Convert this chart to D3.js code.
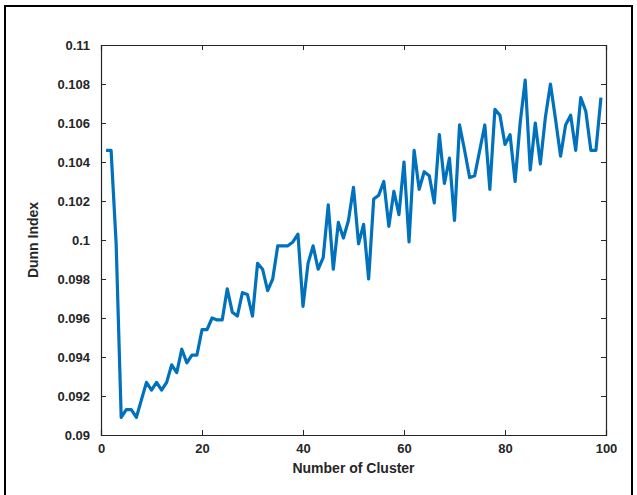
<!DOCTYPE html>
<html>
<head>
<meta charset="utf-8">
<script src="https://cdn.jsdelivr.net/npm/d3@7"></script>
<style>
  body { margin: 0; background: #fff; }
  text { font-family: "Liberation Sans", Arial, sans-serif; font-weight: bold; fill: #262626; }
</style>
</head>
<body>
<svg id="chart" width="637" height="495"></svg>
<script>
// Valeurs (k = 1..99)
const clusters = d3.range(1, 100);
const dunnValues = [
  0.1046, 0.1046, 0.0998, 0.0909, 0.0913, 0.0913, 0.0909, 0.0918, 0.0927, 0.0923,
  0.0927, 0.0923, 0.0927, 0.0936, 0.0932, 0.0944, 0.0937, 0.0941, 0.0941, 0.0954,
  0.0954, 0.0960, 0.0959, 0.0959, 0.0975, 0.0963, 0.0961, 0.0973, 0.0972, 0.0961,
  0.0988, 0.0985, 0.0974, 0.0980, 0.0997, 0.0997, 0.0997, 0.0999, 0.1003, 0.0966,
  0.0988, 0.0997, 0.0985, 0.0991, 0.1018, 0.0985, 0.1009, 0.1001, 0.1010, 0.1027,
  0.0998, 0.1008, 0.0980, 0.1021, 0.1023, 0.1030, 0.1007, 0.1025, 0.1013, 0.1040,
  0.0999, 0.1046, 0.1026, 0.1035, 0.1033, 0.1019, 0.1054, 0.1029, 0.1042, 0.1010,
  0.1059, 0.1046, 0.1032, 0.1033, 0.1046, 0.1059, 0.1026, 0.1067, 0.1064, 0.1049,
  0.1054, 0.1030, 0.1060, 0.1082, 0.1036, 0.1060, 0.1039, 0.1063, 0.1080, 0.1062,
  0.1043, 0.1059, 0.1064, 0.1046, 0.1073, 0.1066, 0.1046, 0.1046, 0.1073
];
const xTicks = [0, 20, 40, 60, 80, 100];
const yTicks = [0.09, 0.092, 0.094, 0.096, 0.098, 0.1, 0.102, 0.104, 0.106, 0.108, 0.11];

const svg = d3.select("#chart");
const plotLeft = 101, plotRight = 606, plotTop = 45, plotBottom = 435;

// cadre extérieur
svg.append("rect")
  .attr("x", 5).attr("y", 6)
  .attr("width", 627).attr("height", 500)
  .attr("fill", "none")
  .attr("stroke", "#000")
  .attr("stroke-width", 2);

const x = d3.scaleLinear().domain([0, 100]).range([plotLeft, plotRight]);
const y = d3.scaleLinear().domain([0.09, 0.11]).range([plotBottom, plotTop]);

// axes (style MATLAB : ticks vers l'intérieur sur les 4 côtés)
const gx = svg.append("g").attr("transform", `translate(0,${plotBottom})`)
  .call(d3.axisBottom(x).tickValues(xTicks).tickSize(-5).tickPadding(9).tickFormat(d => d));
const gxTop = svg.append("g").attr("transform", `translate(0,${plotTop})`)
  .call(d3.axisTop(x).tickValues(xTicks).tickSize(-5).tickFormat(""));
const gy = svg.append("g").attr("transform", `translate(${plotLeft},0)`)
  .call(d3.axisLeft(y).tickValues(yTicks).tickSize(-5).tickPadding(11).tickFormat(d => +d.toFixed(3)));
const gyRight = svg.append("g").attr("transform", `translate(${plotRight},0)`)
  .call(d3.axisRight(y).tickValues(yTicks).tickSize(-5).tickFormat(""));

[gx, gxTop, gy, gyRight].forEach(g => {
  g.selectAll("path").attr("stroke", "#262626").attr("stroke-width", 1.2);
  g.selectAll("line").attr("stroke", "#262626").attr("stroke-width", 1);
  g.selectAll("text").style("font-size", "13px").attr("fill", "#262626");
});

// courbe
const line = d3.line()
  .x((d, i) => x(clusters[i]))
  .y(d => y(d));

svg.append("path")
  .datum(dunnValues)
  .attr("d", line)
  .attr("fill", "none")
  .attr("stroke", "#0072BD")
  .attr("stroke-width", 3.2)
  .attr("stroke-linejoin", "round");

// titres des axes
svg.append("text")
  .attr("x", (plotLeft + plotRight) / 2)
  .attr("y", 473)
  .attr("text-anchor", "middle")
  .style("font-size", "14px")
  .text("Number of Cluster");

svg.append("text")
  .attr("transform", `translate(38,${(plotTop + plotBottom) / 2}) rotate(-90)`)
  .attr("text-anchor", "middle")
  .style("font-size", "14px")
  .text("Dunn Index");
</script>
</body>
</html>
